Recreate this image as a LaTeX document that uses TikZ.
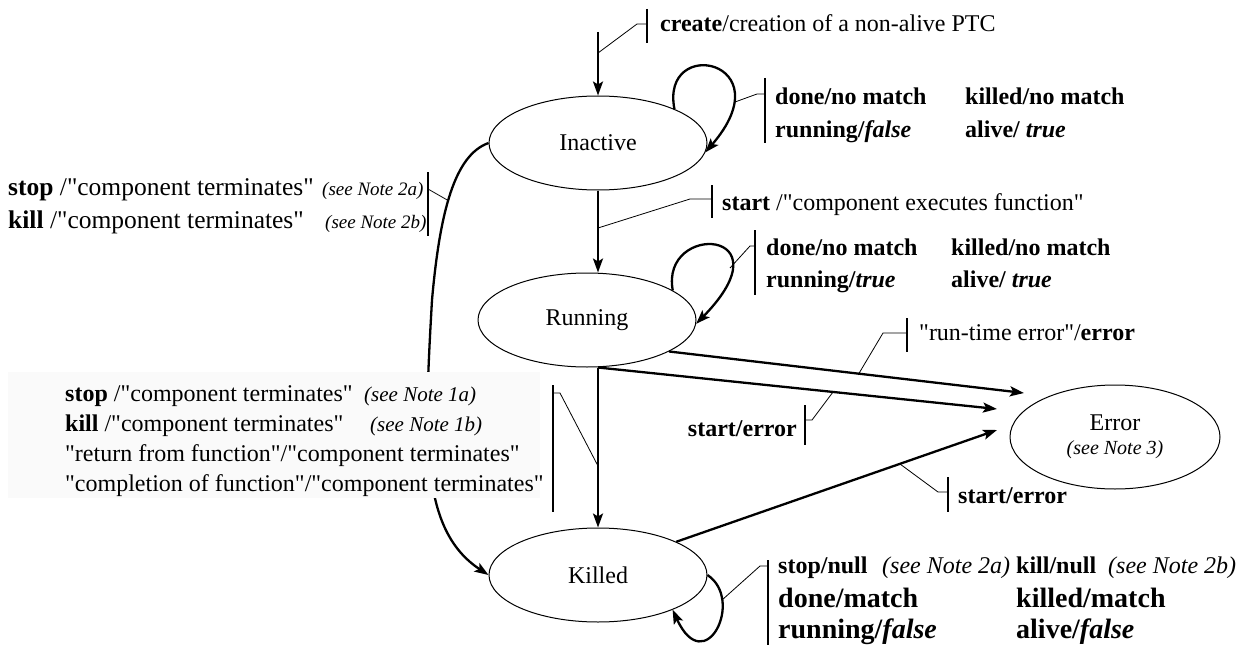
\documentclass[tikz,border=0pt]{standalone}
\usepackage{fontspec}
\setmainfont{Liberation Serif}[Ligatures=TeXOff]
\usetikzlibrary{shapes.geometric,arrows.meta}
\begin{document}
\begin{tikzpicture}[x=1pt,y=-1pt,
  state/.style={draw,ellipse,line width=1pt,minimum width=218pt,minimum height=94pt,inner sep=0pt,font=\fontsize{24}{28}\selectfont},
  trans/.style={line width=2.3pt,-{Stealth[length=14pt,width=10pt,inset=3pt]}},
  tickbar/.style={line width=1.8pt},
  leader/.style={line width=0.8pt},
  lbl/.style={anchor=base west,inner sep=0pt,font=\fontsize{24}{28}\selectfont},
  lblr/.style={anchor=base east,inner sep=0pt,font=\fontsize{24}{28}\selectfont},
  note/.style={anchor=base west,inner sep=0pt,font=\fontsize{19}{23}\itshape},
  big/.style={anchor=base west,inner sep=0pt,font=\fontsize{28}{32}\selectfont}]
\useasboundingbox (0,0) rectangle (1260,650);

% states
\node[state] (I) at (598,143) {Inactive};
\node[state] (R) at (587,320) {Running};
\node[state] (K) at (598,575) {Killed};
\node[state,minimum width=210pt,minimum height=104pt,align=center] (E) at (1115,437)
  {Error\\[-4pt]{\fontsize{20}{24}\itshape (see Note 3)}};

% free ends
\coordinate (start) at (598,32);
\coordinate (e1) at (1024,393);
\coordinate (e2) at (997,409);
\coordinate (e3) at (997,430);

% left curve Inactive -> Killed
\draw[trans] (I.west) .. controls (455,155) and (440,210) .. (432,300)
   .. controls (424,440) and (420,530) .. (K.west);
% box over the curve
\fill[black!2] (8,372) rectangle (540,498);

% transitions
\draw[trans] (start) -- (I.north);
\draw[trans] (I.south) -- (I.south |- R.north);
\draw[trans] (R.south -| K.north) -- (K.north);
\draw[trans] (R.-21) -- (e1);
\draw[trans] (R.south -| K.north) -- (e2);
\draw[trans] (K.23) -- (e3);

% self loops
\draw[trans] (I.24) .. controls (660,35) and (785,60) .. (I.-5);
\draw[trans] (R.19) .. controls (660,222) and (790,228) .. (R.-2);
\draw[trans] (K.east) .. controls (745,600) and (705,680) .. (K.-25);

% ticks and leaders
\draw[tickbar] (647,9) -- (647,43);
\draw[leader] (647,24) -- (637,24) -- (598,53);
\node[lbl] (tcreate) at (660,32) {\textbf{create}/creation of a non-alive PTC};

\draw[tickbar] (765,78) -- (765,143);
\draw[leader] (735,102) -- (757,94) -- (765,94);
\node[lbl] (ti1) at (775,105) {\textbf{done/no match}};
\node[lbl] (ti2) at (965,105) {\textbf{killed/no match}};
\node[lbl] (ti3) at (775,138) {\textbf{running/\textit{false}}};
\node[lbl] (ti4) at (965,138) {\textbf{alive/ \textit{true}}};

\draw[tickbar] (712,185) -- (712,218);
\draw[leader] (712,199) -- (690,199) -- (598,228);
\node[lbl] (tstart) at (722,210) {\textbf{start} /"component executes function"};

\draw[tickbar] (755,230) -- (755,295);
\draw[leader] (730,268) -- (750,246) -- (755,246);
\node[lbl] (tr1) at (766,255) {\textbf{done/no match}};
\node[lbl] (tr2) at (951,255) {\textbf{killed/no match}};
\node[lbl] (tr3) at (766,287) {\textbf{running/\textit{true}}};
\node[lbl] (tr4) at (951,287) {\textbf{alive/ \textit{true}}};

\draw[tickbar] (907,318) -- (907,352);
\draw[leader] (907,333) -- (883,333) -- (858,375);
\node[lbl] (trt) at (919,340) {"run-time error"/\textbf{error}};

\draw[tickbar] (805,405) -- (805,445);
\draw[leader] (805,420) -- (812,420) -- (833,392);
\node[lblr] (tse1) at (797,436) {\textbf{start/error}};

\draw[tickbar] (948,477) -- (948,512);
\draw[leader] (948,492) -- (938,492) -- (900,464);
\node[lbl] (tse2) at (958,503) {\textbf{start/error}};

\draw[tickbar] (768,560) -- (768,645);
\draw[leader] (768,566) -- (760,566) -- (722,600);
\node[lbl] (tk1) at (778,573) {\textbf{stop/null}};
\node[lbl,font=\fontsize{24}{28}\itshape] (tk2) at (882,573) {(see Note 2a)};
\node[lbl] (tk3) at (1016,573) {\textbf{kill/null}};
\node[lbl,font=\fontsize{24}{28}\itshape] (tk4) at (1108,573) {(see Note 2b)};
\node[big] (tk5) at (778,607) {\textbf{done/match}};
\node[big] (tk6) at (1016,607) {\textbf{killed/match}};
\node[big] (tk7) at (778,638) {\textbf{running/\textit{false}}};
\node[big] (tk8) at (1016,638) {\textbf{alive/\textit{false}}};

\draw[tickbar] (428,172) -- (428,236);
\draw[leader] (428,189) -- (449,201);
\node[lbl,font=\fontsize{25.5}{30}\selectfont] (tl1) at (8,195) {\textbf{stop} /"component terminates"};
\node[note] (tl2) at (322,195) {(see Note 2a)};
\node[lbl,font=\fontsize{25.5}{30}\selectfont] (tl3) at (8,228) {\textbf{kill} /"component terminates"};
\node[note] (tl4) at (325,228) {(see Note 2b)};

\draw[tickbar] (553,385) -- (553,512);
\draw[leader] (553,393) -- (560,393) -- (598,466);
\node[lbl] (tb1) at (65,401) {\textbf{stop} /"component terminates"};
\node[note,font=\fontsize{21}{25}\itshape] (tb2) at (364,401) {(see Note 1a)};
\node[lbl] (tb3) at (65,431) {\textbf{kill} /"component terminates"};
\node[note,font=\fontsize{21}{25}\itshape] (tb4) at (370,431) {(see Note 1b)};
\node[lbl] (tb5) at (65,461) {"return from function"/"component terminates"};
\node[lbl] (tb6) at (65,491) {"completion of function"/"component terminates"};
\end{tikzpicture}
\end{document}
